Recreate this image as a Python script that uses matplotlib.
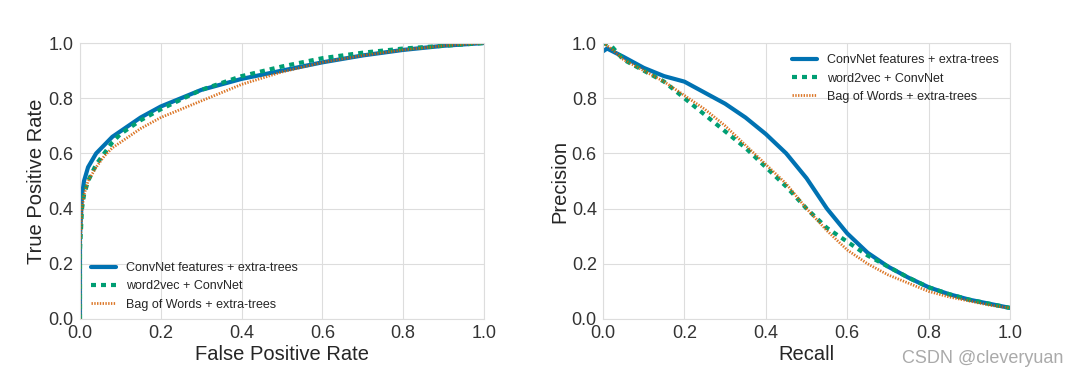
import matplotlib
matplotlib.use("Agg")
import matplotlib.pyplot as plt
import seaborn as sns

sns.set_style("whitegrid")
plt.rcParams['font.family'] = ['Liberation Sans', 'DejaVu Sans']

labels = ["ConvNet features + extra-trees", "word2vec + ConvNet", "Bag of Words + extra-trees"]
colors = ["#0072B2", "#009E73", "#D55E00"]

# ROC curves
fpr_cnn = [0, 0, 0.005, 0.01, 0.02, 0.04, 0.06, 0.08, 0.1, 0.15, 0.2, 0.25, 0.3, 0.4, 0.5, 0.6, 0.7, 0.8, 0.9, 1.0]
tpr_cnn = [0, 0.3, 0.45, 0.5, 0.55, 0.6, 0.63, 0.66, 0.68, 0.73, 0.77, 0.8, 0.83, 0.87, 0.9, 0.93, 0.955, 0.975, 0.99, 1.0]
fpr_w2v = [0, 0, 0.005, 0.01, 0.02, 0.04, 0.06, 0.08, 0.1, 0.15, 0.2, 0.3, 0.4, 0.5, 0.6, 0.7, 0.8, 0.9, 1.0]
tpr_w2v = [0, 0.25, 0.4, 0.45, 0.5, 0.56, 0.6, 0.64, 0.67, 0.72, 0.76, 0.83, 0.88, 0.915, 0.945, 0.965, 0.98, 0.99, 1.0]
fpr_bow = [0, 0, 0.005, 0.01, 0.02, 0.04, 0.06, 0.08, 0.1, 0.15, 0.2, 0.3, 0.4, 0.5, 0.6, 0.7, 0.8, 0.9, 1.0]
tpr_bow = [0, 0.25, 0.4, 0.45, 0.5, 0.55, 0.59, 0.62, 0.64, 0.69, 0.73, 0.79, 0.85, 0.895, 0.93, 0.955, 0.975, 0.99, 1.0]

# Precision-recall curves
rec_cnn = [0, 0.01, 0.05, 0.1, 0.15, 0.2, 0.25, 0.3, 0.35, 0.4, 0.45, 0.5, 0.55, 0.6, 0.65, 0.7, 0.75, 0.8, 0.85, 0.9, 0.95, 1.0]
prec_cnn = [0.97, 0.98, 0.95, 0.91, 0.88, 0.86, 0.82, 0.78, 0.73, 0.67, 0.6, 0.51, 0.4, 0.31, 0.24, 0.19, 0.15, 0.115, 0.09, 0.07, 0.055, 0.04]
rec_w2v = [0, 0.02, 0.05, 0.1, 0.15, 0.2, 0.25, 0.3, 0.35, 0.4, 0.45, 0.5, 0.55, 0.6, 0.65, 0.7, 0.75, 0.8, 0.85, 0.9, 0.95, 1.0]
prec_w2v = [1.0, 0.99, 0.94, 0.9, 0.86, 0.8, 0.74, 0.68, 0.62, 0.55, 0.48, 0.4, 0.33, 0.28, 0.23, 0.19, 0.15, 0.115, 0.09, 0.07, 0.055, 0.04]
rec_bow = [0, 0.02, 0.05, 0.1, 0.15, 0.2, 0.25, 0.3, 0.35, 0.4, 0.45, 0.5, 0.55, 0.6, 0.65, 0.7, 0.75, 0.8, 0.85, 0.9, 0.95, 1.0]
prec_bow = [1.0, 0.98, 0.94, 0.9, 0.86, 0.81, 0.76, 0.7, 0.63, 0.56, 0.49, 0.4, 0.32, 0.25, 0.2, 0.16, 0.13, 0.1, 0.08, 0.065, 0.05, 0.04]

styles = [dict(ls="-", lw=3), dict(ls=(0, (1.2, 1.2)), lw=3), dict(ls=(0, (0.5, 0.5)), lw=2, alpha=0.85)]

fig = plt.figure(figsize=(10.78, 3.76), dpi=100)
ax1 = fig.add_axes([0.0742, 0.1516, 0.3748, 0.734])
ax2 = fig.add_axes([0.5594, 0.1516, 0.3776, 0.734])

roc = [(fpr_cnn, tpr_cnn), (fpr_w2v, tpr_w2v), (fpr_bow, tpr_bow)]
pr = [(rec_cnn, prec_cnn), (rec_w2v, prec_w2v), (rec_bow, prec_bow)]

for (x, y), lab, c, st in zip(roc, labels, colors, styles):
    ax1.plot(x, y, color=c, label=lab, **st)
for (x, y), lab, c, st in zip(pr, labels, colors, styles):
    ax2.plot(x, y, color=c, label=lab, **st)

for ax in (ax1, ax2):
    ax.set_xlim(0, 1)
    ax.set_ylim(0, 1)
    ax.tick_params(labelsize=13, colors="#333333", pad=1)
    for s in ax.spines.values():
        s.set_color("#dddddd")
    ax.grid(color="#dddddd")

ax1.set_xlabel("False Positive Rate", fontsize=14.5, color="#262626", labelpad=2)
ax1.set_ylabel("True Positive Rate", fontsize=14.5, color="#262626", labelpad=2)
ax2.set_xlabel("Recall", fontsize=14.5, color="#262626", labelpad=2)
ax2.set_ylabel("Precision", fontsize=14.5, color="#262626", labelpad=2)

ax1.legend(loc="lower left", fontsize=9, frameon=False, bbox_to_anchor=(0.0, -0.01))
ax2.legend(loc="upper right", fontsize=9, frameon=False)

fig.text(0.986, 0.025, "CSDN @cleveryuan", ha="right", va="bottom", fontsize=13, color="#aaaaaa")

fig.savefig("out.png", dpi=100)
